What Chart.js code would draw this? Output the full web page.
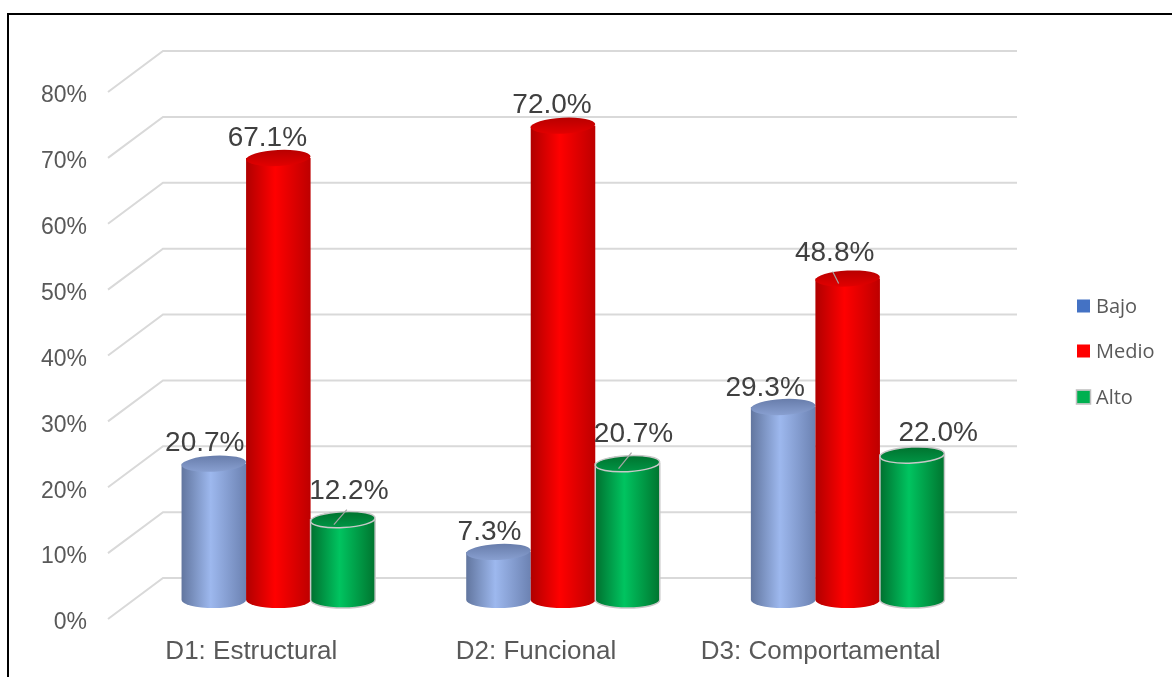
<!DOCTYPE html>
<html>
<head>
<meta charset="utf-8">
<script src="https://cdn.jsdelivr.net/npm/chart.js@4.4.1/dist/chart.umd.min.js"></script>
<style>
  html, body { margin: 0; padding: 0; background: #ffffff; }
  #wrap { width: 1172px; height: 677px; position: relative; }
</style>
</head>
<body>
<div id="wrap"><canvas id="c" width="1172" height="677"></canvas></div>
<script>
// ---- data ----
const categories = ['D1: Estructural', 'D2: Funcional', 'D3: Comportamental'];
const seriesNames = ['Bajo', 'Medio', 'Alto'];
const bajo = [20.7, 7.3, 29.3];
const medio = [67.1, 72.0, 48.8];
const alto = [12.2, 20.7, 22.0];
const yMin = 0, yMax = 80, yStep = 10;

// ---- styling (not data) ----
const legendColors = ['#4472C4', '#FF0000', '#00B050'];
const palettes = [
  { d1: '#62769f', l: '#9db8ee', d2: '#6c82b2', t1: '#687dab', t2: '#889fd0', stroke: null },
  { d1: '#b00000', l: '#ff0000', d2: '#bd0000', t1: '#b80000', t2: '#e20000', stroke: null },
  { d1: '#00702f', l: '#00c460', d2: '#00752f', t1: '#00732f', t2: '#009545', stroke: '#c8c8c8' }
];
// label offsets relative to the top of each cylinder (layout only)
const labelShift = [
  [[-9, -20], [-9, -20], [-18, -19]],
  [[-11, -20], [-11, -20], [-13, -25]],
  [[6, -28], [6, -29], [26, -22]]
];
const leaders = [[2, 0], [2, 1], [1, 2]];

const FONT = '"Liberation Sans", Arial, sans-serif';

const cylinderPlugin = {
  id: 'cyl3d',
  beforeDatasetsDraw(chart) {
    const ctx = chart.ctx;
    const ys = chart.scales.y;
    ctx.save();
    // back-wall gridlines with perspective side lines
    ctx.strokeStyle = '#d9d9d9';
    ctx.lineWidth = 2;
    for (let v = yMin; v <= yMax; v += yStep) {
      const p = ys.getPixelForValue(v);
      ctx.beginPath();
      ctx.moveTo(108, p + 19);
      ctx.lineTo(163, p - 22);
      ctx.lineTo(1017, p - 22);
      ctx.stroke();
    }
    ctx.restore();
  },
  afterDatasetsDraw(chart) {
    const ctx = chart.ctx;
    ctx.save();
    chart.data.datasets.forEach((ds, si) => {
      const meta = chart.getDatasetMeta(si);
      const pal = palettes[si];
      meta.data.forEach((bar) => {
        const cx = bar.x, w = bar.width, ty = bar.y, by = bar.base;
        const rx = w / 2, ry = 8;
        const g = ctx.createLinearGradient(cx - rx, 0, cx + rx, 0);
        g.addColorStop(0, pal.d1);
        g.addColorStop(0.45, pal.l);
        g.addColorStop(1, pal.d2);
        ctx.beginPath();
        ctx.moveTo(cx - rx, ty);
        ctx.lineTo(cx - rx, by);
        ctx.ellipse(cx, by, rx, ry, 0, Math.PI, 0, true);
        ctx.lineTo(cx + rx, ty);
        ctx.closePath();
        ctx.fillStyle = g;
        ctx.fill();
        if (pal.stroke) { ctx.strokeStyle = pal.stroke; ctx.lineWidth = 1.5; ctx.stroke(); }
        ctx.beginPath();
        ctx.ellipse(cx, ty, rx, ry, -0.05, 0, Math.PI * 2);
        const tg = ctx.createLinearGradient(0, ty - ry, 0, ty + ry);
        tg.addColorStop(0, pal.t1);
        tg.addColorStop(1, pal.t2);
        ctx.fillStyle = tg;
        ctx.fill();
        if (pal.stroke) { ctx.strokeStyle = pal.stroke; ctx.lineWidth = 1.5; ctx.stroke(); }
      });
    });
    // leader lines
    ctx.strokeStyle = '#a6a6a6';
    ctx.lineWidth = 1.2;
    leaders.forEach(([si, i]) => {
      const bar = chart.getDatasetMeta(si).data[i];
      const lx = bar.x + labelShift[si][i][0];
      const ly = bar.y + labelShift[si][i][1];
      ctx.beginPath();
      ctx.moveTo(lx - 2, ly + 18);
      ctx.lineTo(bar.x - 9, bar.y + 5);
      ctx.stroke();
    });
    // data labels
    ctx.fillStyle = '#404040';
    ctx.font = '28px ' + FONT;
    ctx.textAlign = 'center';
    ctx.textBaseline = 'middle';
    chart.data.datasets.forEach((ds, si) => {
      const meta = chart.getDatasetMeta(si);
      meta.data.forEach((bar, i) => {
        const v = ds.data[i];
        ctx.fillText(v.toFixed(1) + '%', bar.x + labelShift[si][i][0], bar.y + labelShift[si][i][1]);
      });
    });
    ctx.restore();
  },
  afterDraw(chart) {
    const ctx = chart.ctx;
    ctx.save();
    // legend
    ctx.font = '20px "Open Sans", sans-serif';
    ctx.textBaseline = 'middle';
    ctx.textAlign = 'left';
    const ly = [306, 351, 397];
    chart.data.datasets.forEach((ds, si) => {
      ctx.fillStyle = legendColors[si];
      ctx.fillRect(1077, ly[si] - 6.5, 13, 13);
      if (si === 2) { ctx.strokeStyle = '#bfbfbf'; ctx.lineWidth = 1.5; ctx.strokeRect(1076.5, ly[si] - 7, 14, 14); }
      ctx.fillStyle = '#595959';
      ctx.fillText(ds.label, 1096, ly[si] + 1);
    });
    // frame
    ctx.strokeStyle = '#000000';
    ctx.lineWidth = 2;
    ctx.beginPath();
    ctx.moveTo(8, 677);
    ctx.lineTo(8, 14);
    ctx.lineTo(1172, 14);
    ctx.stroke();
    ctx.restore();
  }
};

const datasets = [bajo, medio, alto].map((arr, si) => ({
  label: seriesNames[si],
  data: arr,
  backgroundColor: 'rgba(0,0,0,0)',
  borderWidth: 0,
  categoryPercentage: 0.68,
  barPercentage: 1.0
}));

new Chart(document.getElementById('c'), {
  type: 'bar',
  data: { labels: categories, datasets },
  plugins: [cylinderPlugin],
  options: {
    responsive: false,
    animation: false,
    events: [],
    layout: { padding: { left: 0, right: 182, top: 73, bottom: 0 } },
    plugins: { legend: { display: false }, tooltip: { enabled: false } },
    scales: {
      x: {
        grid: { display: false, drawTicks: false },
        border: { display: false },
        ticks: { color: '#595959', font: { family: FONT, size: 26 }, padding: 36, labelOffset: -27, maxRotation: 0, autoSkip: false },
        afterFit(scale) { scale.height = 77; }
      },
      y: {
        min: yMin, max: yMax,
        grid: { display: false, drawTicks: false },
        border: { display: false },
        ticks: { stepSize: yStep, color: '#595959', font: { family: FONT, size: 23 }, padding: 49, labelOffset: 23,
                 callback: (v) => v + '%' },
        afterFit(scale) { scale.width = 136; }
      }
    }
  }
});
</script>
</body>
</html>
